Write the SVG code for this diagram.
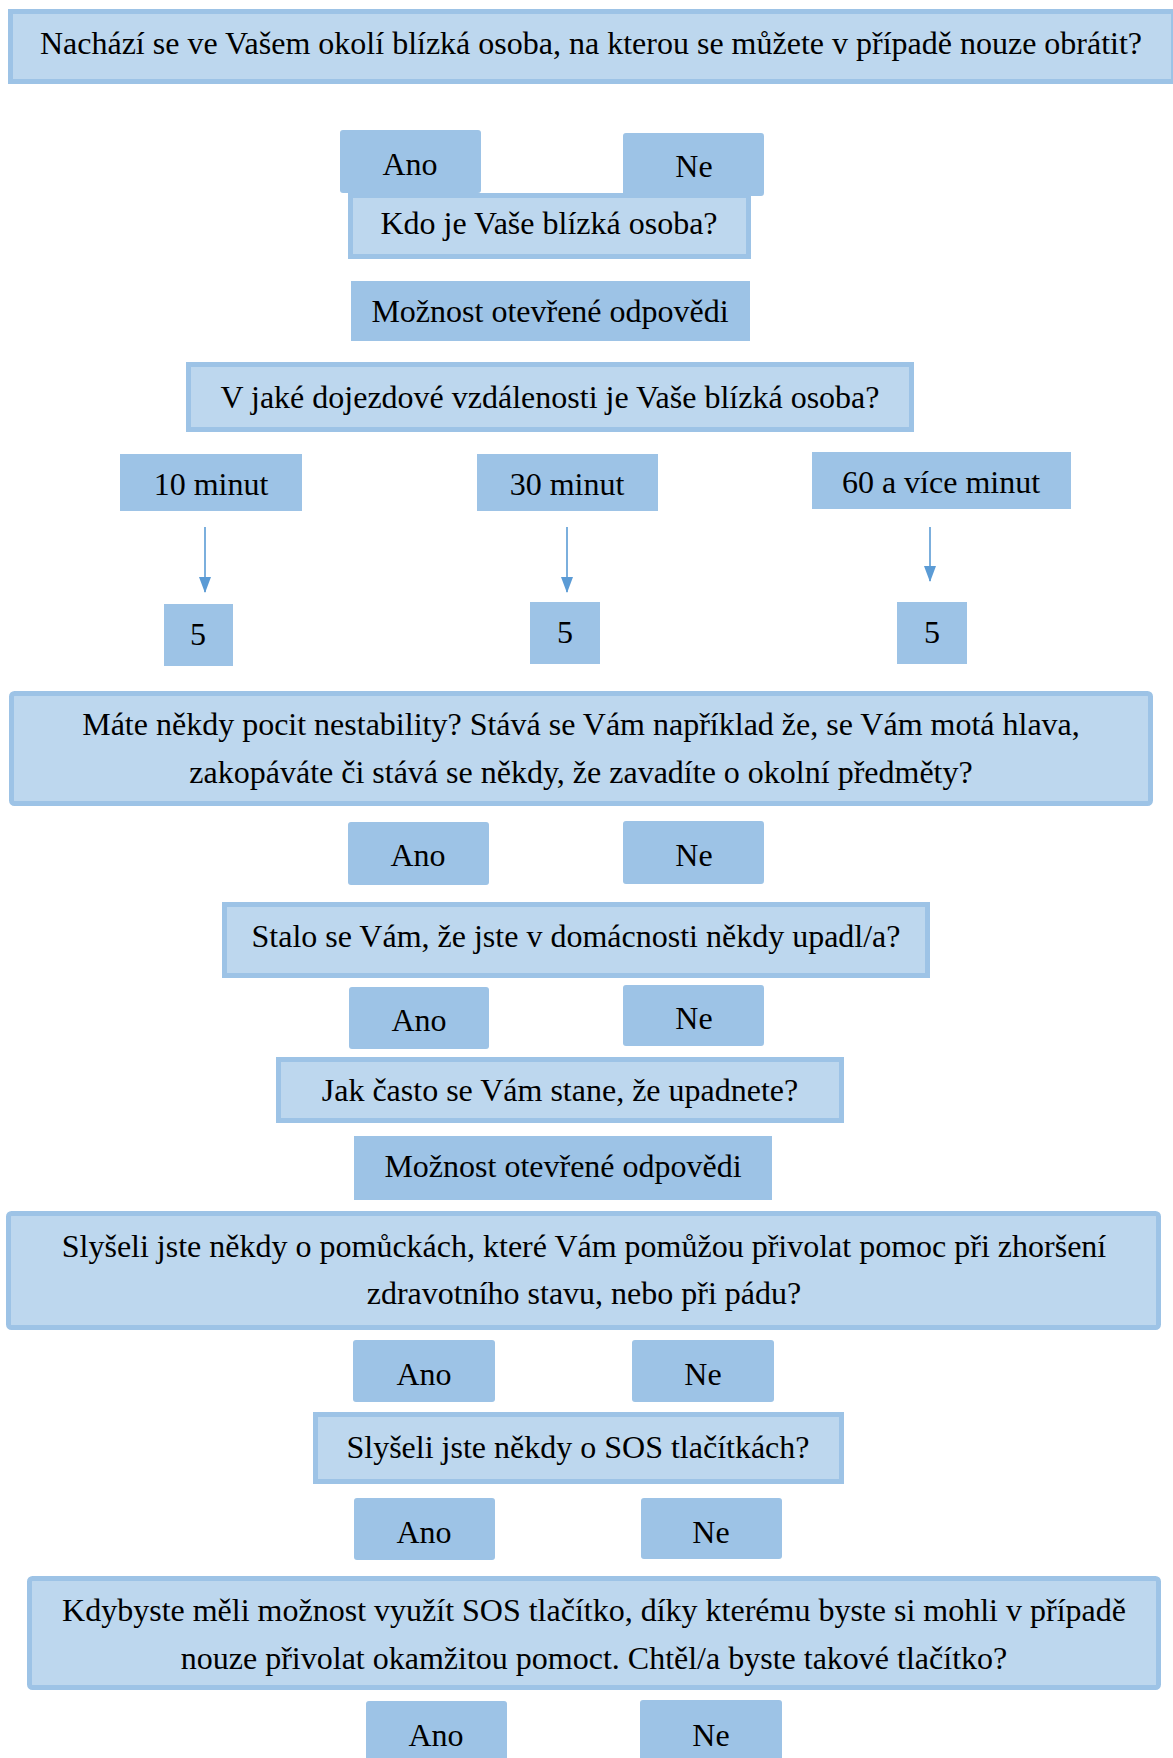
<svg xmlns="http://www.w3.org/2000/svg" width="1173" height="1758" viewBox="0 0 1173 1758">
<style>
.q{fill:#BDD7EE;stroke:#9DC3E6;stroke-width:5}
.a{fill:#9DC3E6}
text{font-family:"Liberation Serif","Times New Roman",serif;font-size:32px;fill:#000;text-anchor:middle}
.c{stroke:#5B9BD5;stroke-width:1.6;fill:none}
</style>
<defs>
<marker id="ah" markerWidth="16" markerHeight="12" refX="15" refY="6" orient="auto" markerUnits="userSpaceOnUse" viewBox="0 0 16 12">
<path d="M0,0 L16,6 L0,12 Z" fill="#5B9BD5"/>
</marker>
</defs>
<rect width="1173" height="1758" fill="#fff"/>
<g id="q1"><rect class="q" x="10.5" y="11.5" width="1163" height="70"/><text x="591" y="54">Nachází se ve Vašem okolí blízká osoba, na kterou se můžete v případě nouze obrátit?</text></g>
<g id="q2"><rect class="q" x="350.5" y="195.5" width="398" height="61"/><text x="549" y="234">Kdo je Vaše blízká osoba?</text></g>
<g id="a1"><rect class="a" x="340" y="130" width="141" height="63" rx="3"/><text x="410" y="175">Ano</text></g>
<g id="n1"><rect class="a" x="623" y="133" width="141" height="63" rx="3"/><text x="694" y="177">Ne</text></g>
<g id="o1"><rect class="a" x="351" y="281" width="399" height="60"/><text x="550" y="322">Možnost otevřené odpovědi</text></g>
<g id="q3"><rect class="q" x="188.5" y="364.5" width="723" height="65"/><text x="550" y="408">V jaké dojezdové vzdálenosti je Vaše blízká osoba?</text></g>
<g id="t10"><rect class="a" x="120" y="454" width="182" height="57"/><text x="211" y="495">10 minut</text></g>
<g id="t30"><rect class="a" x="477" y="454" width="181" height="57"/><text x="567" y="495">30 minut</text></g>
<g id="t60"><rect class="a" x="812" y="452" width="259" height="57"/><text x="941" y="493">60 a více minut</text></g>
<g id="s1"><rect class="a" x="164" y="604" width="69" height="62"/><text x="198" y="645">5</text></g>
<g id="s2"><rect class="a" x="530" y="602" width="70" height="62"/><text x="565" y="643">5</text></g>
<g id="s3"><rect class="a" x="897" y="602" width="70" height="62"/><text x="932" y="643">5</text></g>
<g id="connectors">
<line class="c" x1="205" y1="527" x2="205" y2="592" marker-end="url(#ah)"/>
<line class="c" x1="567" y1="527" x2="567" y2="592" marker-end="url(#ah)"/>
<line class="c" x1="930" y1="527" x2="930" y2="581" marker-end="url(#ah)"/>
</g>
<g id="q4"><rect class="q" x="11.5" y="693.5" width="1139" height="110" rx="3"/><text x="581" y="735">Máte někdy pocit nestability? Stává se Vám například že, se Vám motá hlava,</text><text x="581" y="783">zakopáváte či stává se někdy, že zavadíte o okolní předměty?</text></g>
<g id="a2"><rect class="a" x="348" y="822" width="141" height="63" rx="3"/><text x="418" y="866">Ano</text></g>
<g id="n2"><rect class="a" x="623" y="821" width="141" height="63" rx="3"/><text x="694" y="866">Ne</text></g>
<g id="q5"><rect class="q" x="224.5" y="904.5" width="703" height="71"/><text x="576" y="947">Stalo se Vám, že jste v domácnosti někdy upadl/a?</text></g>
<g id="a3"><rect class="a" x="349" y="987" width="140" height="62" rx="3"/><text x="419" y="1031">Ano</text></g>
<g id="n3"><rect class="a" x="623" y="985" width="141" height="61" rx="3"/><text x="694" y="1029">Ne</text></g>
<g id="q6"><rect class="q" x="278.5" y="1059.5" width="563" height="61"/><text x="560" y="1101">Jak často se Vám stane, že upadnete?</text></g>
<g id="o2"><rect class="a" x="354" y="1136" width="418" height="64"/><text x="563" y="1177">Možnost otevřené odpovědi</text></g>
<g id="q7"><rect class="q" x="8.5" y="1213.5" width="1150" height="114" rx="3"/><text x="584" y="1257">Slyšeli jste někdy o pomůckách, které Vám pomůžou přivolat pomoc při zhoršení</text><text x="584" y="1304">zdravotního stavu, nebo při pádu?</text></g>
<g id="a4"><rect class="a" x="353" y="1340" width="142" height="62" rx="3"/><text x="424" y="1385">Ano</text></g>
<g id="n4"><rect class="a" x="632" y="1340" width="142" height="62" rx="3"/><text x="703" y="1385">Ne</text></g>
<g id="q8"><rect class="q" x="315.5" y="1414.5" width="526" height="67"/><text x="578" y="1458">Slyšeli jste někdy o SOS tlačítkách?</text></g>
<g id="a5"><rect class="a" x="354" y="1498" width="141" height="62" rx="3"/><text x="424" y="1543">Ano</text></g>
<g id="n5"><rect class="a" x="641" y="1498" width="141" height="61" rx="3"/><text x="711" y="1543">Ne</text></g>
<g id="q9"><rect class="q" x="29.5" y="1578.5" width="1129" height="109" rx="3"/><text x="594" y="1621">Kdybyste měli možnost využít SOS tlačítko, díky kterému byste si mohli v případě</text><text x="594" y="1669">nouze přivolat okamžitou pomoct. Chtěl/a byste takové tlačítko?</text></g>
<g id="a6"><rect class="a" x="366" y="1701" width="141" height="64" rx="3"/><text x="436" y="1746">Ano</text></g>
<g id="n6"><rect class="a" x="640" y="1700" width="142" height="65" rx="3"/><text x="711" y="1746">Ne</text></g>
</svg>
